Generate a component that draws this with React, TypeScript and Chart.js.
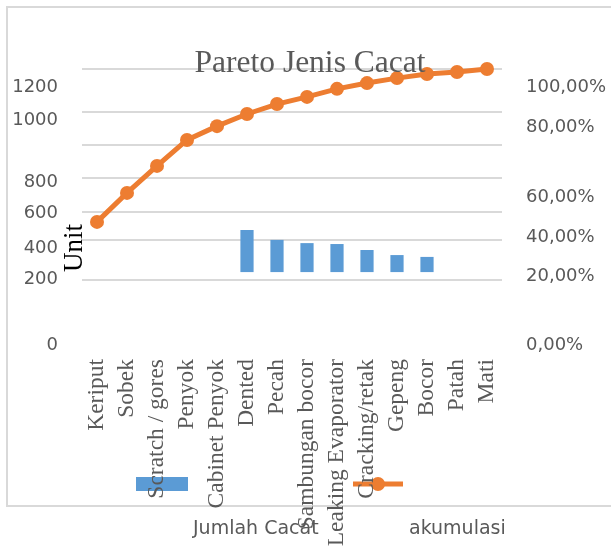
import React, { useEffect, useRef } from 'react';
import { Chart, registerables } from 'chart.js';

Chart.register(...registerables);

// ---- data ----
const categories = [
  'Keriput',
  'Sobek',
  'Scratch / gores',
  'Penyok',
  'Cabinet Penyok',
  'Dented',
  'Pecah',
  'Sambungan bocor',
  'Leaking Evaporator',
  'Cracking/retak',
  'Gepeng',
  'Bocor',
  'Patah',
  'Mati',
];
// bar tops (left-axis units); the bars in the picture float on a common base
const jumlahCacat = [null, null, null, null, null, 500, 457, 443, 439, 413, 391, 383, null, null];
const jumlahCacatBase = 317;
// cumulative share (right axis, 0..1)
const akumulasi = [0.446, 0.551, 0.649, 0.743, 0.793, 0.837, 0.873, 0.899, 0.928, 0.949, 0.967, 0.982, 0.989, 1.0];

const leftTickLabels = ['0', '200', '400', '600', '800', '1000', '1200'];
const leftTickValues = [0, 287, 422, 574, 709, 978, 1122];
const rightTickLabels = ['0,00%', '20,00%', '40,00%', '60,00%', '80,00%', '100,00%'];
const rightTickValues = [0, 0.25, 0.391, 0.536, 0.79, 0.935];
const gridValues = [283, 457, 578, 727, 870, 1013, 1200];

const chartTitle = 'Pareto Jenis Cacat';
const yTitle = 'Unit';

const BAR_COLOR = '#5b9bd5';
const LINE_COLOR = '#ed7d31';
const TEXT_COLOR = '#595959';
const GRID_COLOR = '#d9d9d9';
const SANS = '"DejaVu Sans", sans-serif';
const SERIF = '"Liberation Serif", "Times New Roman", serif';

const decorPlugin = {
  id: 'decor',
  beforeDraw(chart: any) {
    const ctx = chart.ctx;
    ctx.save();
    ctx.strokeStyle = GRID_COLOR;
    ctx.lineWidth = 2;
    ctx.strokeRect(7, 7, 620, 499);

    // legend swatches (drawn under the axis labels, as in the reference)
    const ds = chart.data.datasets;
    const bar = ds.find((d: any) => d.type === 'bar');
    const line = ds.find((d: any) => d.type === 'line');
    ctx.fillStyle = bar.backgroundColor;
    ctx.fillRect(136, 477, 52, 14);
    ctx.strokeStyle = line.borderColor;
    ctx.lineWidth = 5;
    ctx.beginPath();
    ctx.moveTo(353, 484);
    ctx.lineTo(403, 484);
    ctx.stroke();
    ctx.fillStyle = line.borderColor;
    ctx.beginPath();
    ctx.arc(378, 484, 7, 0, Math.PI * 2);
    ctx.fill();
    ctx.restore();
  },
  afterDraw(chart: any) {
    const ctx = chart.ctx;
    const area = chart.chartArea;
    ctx.save();
    // title
    ctx.fillStyle = TEXT_COLOR;
    ctx.font = `31.5px ${SERIF}`;
    ctx.textAlign = 'center';
    ctx.textBaseline = 'alphabetic';
    ctx.fillText(chartTitle, (area.left + area.right) / 2 + 18, area.top + 3);

    // y axis title
    ctx.save();
    ctx.translate(area.left, area.top + 179);
    ctx.rotate(-Math.PI / 2);
    ctx.fillStyle = '#000000';
    ctx.font = `27px ${SERIF}`;
    ctx.textAlign = 'center';
    ctx.textBaseline = 'alphabetic';
    ctx.fillText(yTitle, 0, 0);
    ctx.restore();

    // legend texts
    const ds = chart.data.datasets;
    const bar = ds.find((d: any) => d.type === 'bar');
    const line = ds.find((d: any) => d.type === 'line');
    ctx.font = `19px ${SANS}`;
    ctx.textAlign = 'left';
    ctx.textBaseline = 'alphabetic';
    ctx.fillStyle = TEXT_COLOR;
    ctx.fillText(bar.label, 193, 534);
    ctx.fillText(line.label, 409, 534);
    ctx.restore();
  },
};

export default function App() {
  const ref = useRef<HTMLCanvasElement | null>(null);

  useEffect(() => {
    if (!ref.current) return;
    const chart = new Chart(ref.current, {
      type: 'bar',
      data: {
        labels: categories,
        datasets: [
          {
            type: 'line',
            label: 'akumulasi',
            data: akumulasi,
            yAxisID: 'y1',
            borderColor: LINE_COLOR,
            backgroundColor: LINE_COLOR,
            borderWidth: 5,
            pointRadius: 7,
            pointBackgroundColor: LINE_COLOR,
            pointBorderWidth: 0,
            tension: 0,
            clip: false,
            order: 0,
          } as any,
          {
            type: 'bar',
            label: 'Jumlah Cacat',
            data: jumlahCacat.map((v) => (v == null ? null : [jumlahCacatBase, v])) as any,
            yAxisID: 'y',
            backgroundColor: BAR_COLOR,
            borderWidth: 0,
            categoryPercentage: 1,
            barPercentage: 0.44,
            order: 1,
          } as any,
        ],
      },
      options: {
        responsive: false,
        animation: false,
        layout: { padding: { top: 69, left: 0, right: 0, bottom: 0 } },
        plugins: {
          legend: { display: false },
          title: { display: false },
          tooltip: { enabled: false },
        },
        scales: {
          x: {
            type: 'category',
            offset: true,
            grid: { display: false, drawTicks: false },
            border: { display: false },
            ticks: {
              autoSkip: false,
              minRotation: 90,
              maxRotation: 90,
              padding: 14,
              color: TEXT_COLOR,
              font: { family: SERIF, size: 23.5 },
            },
            afterFit: (s: any) => {
              s.height = 205;
            },
          },
          y: {
            type: 'linear',
            position: 'left',
            weight: 10,
            min: 0,
            max: 1200,
            grid: { display: false, drawTicks: false },
            border: { display: false },
            afterBuildTicks: (s: any) => {
              s.ticks = leftTickValues.map((v) => ({ value: v }));
            },
            ticks: {
              padding: 24,
              color: TEXT_COLOR,
              font: { family: SANS, size: 18 },
              callback: (_v: any, i: number) => leftTickLabels[i],
            },
            afterFit: (s: any) => {
              s.width = 82;
            },
          },
          g: {
            type: 'linear',
            position: 'left',
            weight: 0,
            min: 0,
            max: 1200,
            grid: { display: true, drawTicks: false, color: GRID_COLOR, lineWidth: 2 },
            border: { display: false },
            afterBuildTicks: (s: any) => {
              s.ticks = gridValues.map((v) => ({ value: v }));
            },
            ticks: { display: false },
            afterFit: (s: any) => {
              s.width = 0;
            },
          },
          y1: {
            type: 'linear',
            position: 'right',
            min: 0,
            max: 1,
            grid: { display: false, drawTicks: false },
            border: { display: false },
            afterBuildTicks: (s: any) => {
              s.ticks = rightTickValues.map((v) => ({ value: v }));
            },
            ticks: {
              padding: 24,
              color: TEXT_COLOR,
              font: { family: SANS, size: 18 },
              callback: (_v: any, i: number) => rightTickLabels[i],
            },
            afterFit: (s: any) => {
              s.width = 109;
            },
          },
        },
      } as any,
      plugins: [decorPlugin],
    });
    return () => chart.destroy();
  }, []);

  return (
    <div style={{ position: 'fixed', left: 0, top: 0, width: 611, height: 550, background: '#ffffff' }}>
      <canvas ref={ref} width={611} height={550} style={{ display: 'block' }} />
    </div>
  );
}
